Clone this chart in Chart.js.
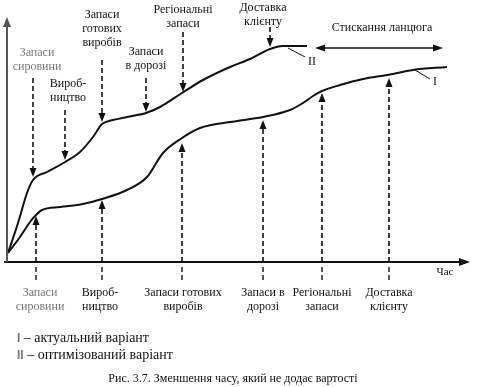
<!DOCTYPE html>
<html lang="uk">
<head>
<meta charset="utf-8">
<title>Зменшення часу, який не додає вартості</title>
<script src="https://cdn.jsdelivr.net/npm/chart.js@4.4.0/dist/chart.umd.min.js"></script>
<style>
  html, body { margin: 0; padding: 0; background: #fff; }
  #wrap { position: relative; width: 478px; height: 387px; overflow: hidden; }
  #chart { position: absolute; left: 0; top: 0; }
  .legend-line {
    position: absolute; left: 17px; white-space: nowrap;
    font-family: "Liberation Serif", "Times New Roman", serif; font-size: 14px; line-height: 16px; color: #111;
  }
  .legend-line .num { color: #777; font-family: "Liberation Sans", Arial, sans-serif; font-weight: bold; font-size: 12px; }
  #caption {
    position: absolute; left: 0; top: 370px; width: 466px; text-align: center;
    font-family: "Liberation Serif", "Times New Roman", serif; font-size: 12px; line-height: 16px; color: #111;
  }
</style>
</head>
<body>
<div id="wrap">
  <canvas id="chart" width="478" height="387"></canvas>
  <div class="legend-line" style="top:330px"><span class="num">I</span> – актуальний варіант</div>
  <div class="legend-line" style="top:347px"><span class="num">II</span> – оптимізований варіант</div>
  <div id="caption">Рис. 3.7. Зменшення часу, який не додає вартості</div>
</div>
<script>
"use strict";

// ── Curve I (actual variant) ───────────────────────────────────────────────
const timeI  = [1, 13, 23, 29, 35, 53, 76, 95, 120, 140, 156, 175, 193, 223, 256, 283, 296, 306, 315, 333, 356, 380, 406, 440];
const valueI = [9, 25, 40, 47, 52, 55, 58, 63, 72, 85, 109, 124, 134, 140, 145, 152, 159, 166, 171, 177, 183, 187, 192, 195];

// ── Curve II (optimised variant) ───────────────────────────────────────────
const timeII  = [1, 11, 20, 26, 40, 58, 73, 86, 95, 106, 120, 139, 153, 175, 196, 223, 243, 263, 276, 300];
const valueII = [9, 39, 69, 82, 90, 100, 110, 125, 138, 142, 145, 149, 155, 169, 182, 195, 203, 213, 216, 216];

// ── Stages above curve II ──────────────────────────────────────────────────
const topLabels    = [["Запаси", "сировини"], ["Вироб-", "ництво"], ["Запаси", "готових", "виробів"],
                      ["Запаси", "в дорозі"], ["Регіональні", "запаси"], ["Доставка", "клієнту"]];
const topLabelX    = [30, 61, 95, 139, 176, 256];
const topLabelY    = [209, 178, 247, 210, 252, 254];
const topArrowX    = [26, 58, 95, 139, 176, 263];
const topArrowFrom = [184, 152, 202, 184, 230, 235];
const topArrowTip  = [85, 102, 140, 150, 170, 215];

// ── Stages below curve I ───────────────────────────────────────────────────
const bottomLabels   = [["Запаси", "сировини"], ["Вироб-", "ництво"], ["Запаси готових", "виробів"],
                        ["Запаси в", "дорозі"], ["Регіональні", "запаси"], ["Доставка", "клієнту"]];
const bottomLabelX   = [33, 93, 176, 256, 315, 382];
const bottomArrowX   = [29, 95, 175, 256, 315, 382];
const bottomArrowTip = [46, 62, 119, 142, 169, 184];

// ── Chain compression span ─────────────────────────────────────────────────
const squeezeFrom = 308, squeezeTo = 436, squeezeLevel = 214;

const SERIF = "'Liberation Serif', 'Times New Roman', serif";
const INK = "#111";

function arrowHead(ctx, x, y, dx, dy, len = 9, half = 3.5) {
  const n = Math.hypot(dx, dy);
  const ux = dx / n, uy = dy / n;
  ctx.beginPath();
  ctx.moveTo(x, y);
  ctx.lineTo(x - ux * len - uy * half, y - uy * len + ux * half);
  ctx.lineTo(x - ux * len + uy * half, y - uy * len - ux * half);
  ctx.closePath();
  ctx.fill();
}

function dashedArrow(ctx, x, y0, y1) {
  const dir = Math.sign(y1 - y0);
  ctx.save();
  ctx.setLineDash([5, 3]);
  ctx.lineWidth = 1.6;
  ctx.beginPath();
  ctx.moveTo(x, y0);
  ctx.lineTo(x, y1 - dir * 7);
  ctx.stroke();
  ctx.restore();
  arrowHead(ctx, x, y1, 0, dir);
}

function textBlock(ctx, lines, px, py, step = 14) {
  lines.forEach((t, i) => ctx.fillText(t, px, py + i * step));
}

// ── Diagram annotations plugin ─────────────────────────────────────────────
const diagramPlugin = {
  id: "diagram",
  afterDraw(chart) {
    const { ctx, scales: { x, y } } = chart;
    ctx.save();
    ctx.strokeStyle = INK;
    ctx.fillStyle = INK;

    // axes
    const x0 = x.getPixelForValue(0), y0 = y.getPixelForValue(0);
    ctx.lineWidth = 2;
    ctx.beginPath();
    ctx.moveTo(x.getPixelForValue(-3), y0);
    ctx.lineTo(x.getPixelForValue(455), y0);
    ctx.stroke();
    arrowHead(ctx, x.getPixelForValue(463), y0, 1, 0, 11, 4);
    ctx.strokeStyle = "#555";
    ctx.fillStyle = "#555";
    ctx.beginPath();
    ctx.moveTo(x0, y0);
    ctx.lineTo(x0, y.getPixelForValue(236));
    ctx.stroke();
    arrowHead(ctx, x0, y.getPixelForValue(245), 0, -1, 10, 4);
    ctx.strokeStyle = INK;
    ctx.fillStyle = INK;

    // top stages
    ctx.font = `12px ${SERIF}`;
    ctx.textAlign = "center";
    ctx.textBaseline = "middle";
    topLabels.forEach((lines, i) => {
      ctx.fillStyle = i === 0 ? "#777" : INK;
      textBlock(ctx, lines, x.getPixelForValue(topLabelX[i]), y.getPixelForValue(topLabelY[i]));
      ctx.fillStyle = INK;
      dashedArrow(ctx, x.getPixelForValue(topArrowX[i]),
        y.getPixelForValue(topArrowFrom[i]), y.getPixelForValue(topArrowTip[i]));
    });

    // bottom stages
    bottomLabels.forEach((lines, i) => {
      const px = x.getPixelForValue(bottomArrowX[i]);
      dashedArrow(ctx, px, y0, y.getPixelForValue(bottomArrowTip[i]));
      ctx.save();
      ctx.setLineDash([5, 3]);
      ctx.lineWidth = 1.4;
      ctx.beginPath();
      ctx.moveTo(px, y.getPixelForValue(-5));
      ctx.lineTo(px, y.getPixelForValue(-21));
      ctx.stroke();
      ctx.restore();
      ctx.fillStyle = i === 0 ? "#777" : INK;
      textBlock(ctx, lines, x.getPixelForValue(bottomLabelX[i]), y.getPixelForValue(-31));
      ctx.fillStyle = INK;
    });

    // time label
    ctx.font = `11px ${SERIF}`;
    ctx.fillText("Час", x.getPixelForValue(438), y.getPixelForValue(-10));

    // chain compression
    const sy = y.getPixelForValue(squeezeLevel);
    const sa = x.getPixelForValue(squeezeFrom), sb = x.getPixelForValue(squeezeTo);
    ctx.lineWidth = 1.5;
    ctx.beginPath();
    ctx.moveTo(sa + 8, sy);
    ctx.lineTo(sb - 8, sy);
    ctx.stroke();
    arrowHead(ctx, sa, sy, -1, 0, 10, 3.5);
    arrowHead(ctx, sb, sy, 1, 0, 10, 3.5);
    ctx.font = `12px ${SERIF}`;
    ctx.fillText("Стискання ланцюга", (sa + sb) / 2 + 3, y.getPixelForValue(234));

    // curve markers
    ctx.lineWidth = 1;
    ctx.beginPath();
    ctx.moveTo(x.getPixelForValue(281), y.getPixelForValue(214));
    ctx.lineTo(x.getPixelForValue(298), y.getPixelForValue(205));
    ctx.moveTo(x.getPixelForValue(408), y.getPixelForValue(192));
    ctx.lineTo(x.getPixelForValue(423), y.getPixelForValue(183));
    ctx.stroke();
    ctx.font = `12px ${SERIF}`;
    ctx.fillText("II", x.getPixelForValue(305), y.getPixelForValue(200));
    ctx.fillText("I", x.getPixelForValue(428), y.getPixelForValue(180));

    ctx.restore();
  },
};

function curve(ts, vs) {
  return {
    data: ts.map((t, i) => ({ x: t, y: vs[i] })),
    borderColor: INK,
    borderWidth: 2,
    pointRadius: 0,
    fill: false,
    cubicInterpolationMode: "monotone",
  };
}

new Chart(document.getElementById("chart").getContext("2d"), {
  type: "line",
  data: { datasets: [curve(timeI, valueI), curve(timeII, valueII)] },
  options: {
    responsive: false,
    animation: false,
    layout: { padding: { left: 7, right: 8, top: 0, bottom: 125 } },
    plugins: { legend: { display: false }, tooltip: { enabled: false } },
    scales: {
      x: { type: "linear", display: false, min: 0, max: 463 },
      y: { display: false, min: 0, max: 262 },
    },
  },
  plugins: [diagramPlugin],
});
</script>
</body>
</html>
